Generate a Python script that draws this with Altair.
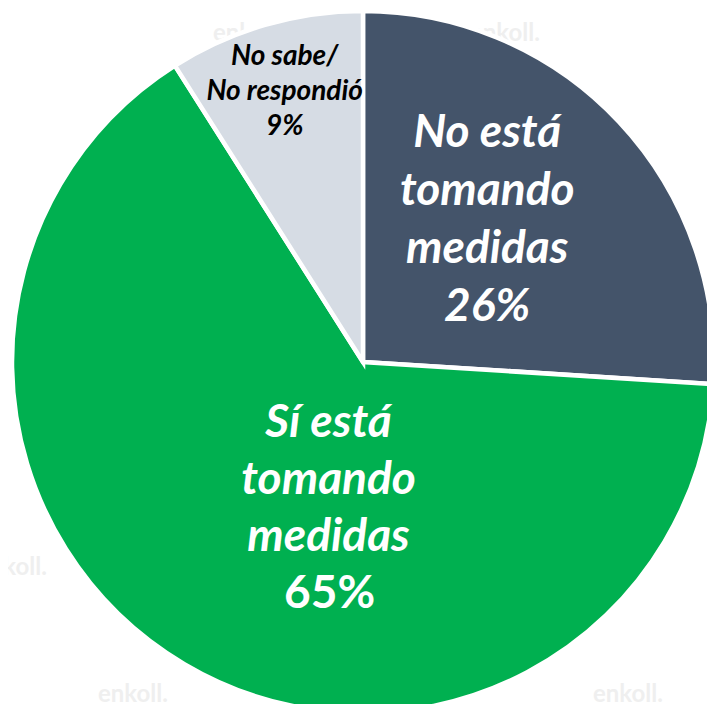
import altair as alt
import pandas as pd

# ---- data ----
categories = ["No está tomando medidas", "Sí está tomando medidas", "No sabe/No respondió"]
values = [26, 65, 9]
order = [1, 2, 3]
main_labels = ["No está\ntomando\nmedidas\n26%", "Sí está\ntomando\nmedidas", "No sabe/\nNo respondió\n9%"]
pct_labels = ["", "65%", ""]
colors = ["#44546A", "#00B050", "#D6DCE4"]

df = pd.DataFrame({
    "category": categories,
    "value": values,
    "order": order,
    "label": main_labels,
    "pct": pct_labels,
})

CX, CY, R = 355, 354, 351
FONT = "Lato"

base = (
    alt.Chart(df)
    .transform_stack(stack="value", groupby=[], as_=["v0", "v1"],
                     sort=[alt.SortField("order", order="ascending")])
    .transform_calculate(mid="(datum.v0 + datum.v1) / 2")
)
theta_scale = alt.Scale(domain=[0, 100])

arcs = base.mark_arc(radius=R, stroke="white", strokeWidth=4.5).encode(
    theta=alt.Theta("v0:Q", scale=theta_scale),
    theta2="v1:Q",
    color=alt.Color("category:N", scale=alt.Scale(domain=categories, range=colors), legend=None),
    x=alt.value(CX),
    y=alt.value(CY),
)

def label_layer(cat, field, radius, dx, dy, size, lh, color, style):
    return base.transform_filter(alt.datum.category == cat).mark_text(
        radius=radius, dx=dx, dy=dy, font=FONT, fontSize=size, fontWeight="bold",
        fontStyle=style, color=color, align="center", baseline="alphabetic",
        lineBreak="\n", lineHeight=lh,
    ).encode(
        theta=alt.Theta("mid:Q", scale=theta_scale),
        text=alt.Text(f"{field}:N"),
        x=alt.value(CX),
        y=alt.value(CY),
    )

lab_dark = label_layer(categories[0], "label", 180, -7, -92, 46, 58, "white", "italic")
lab_green = label_layer(categories[1], "label", 160, 47, -63, 46, 57, "white", "italic")
lab_green_pct = label_layer(categories[1], "pct", 160, 48, 108, 46, 57, "white", "normal")
lab_gray = label_layer(categories[2], "label", 270, -3, -38, 28, 35, "black", "italic")

# faint watermark decoration
wm_df = pd.DataFrame({"t": ["enkoll."]})
wm_pos = [(240, 26), (497, 26), (745, 26), (4, 560), (125, 687), (620, 687)]
wms = [
    alt.Chart(wm_df).mark_text(font=FONT, fontSize=24, fontWeight="bold",
                               color="#EFEFEF", align="center", baseline="middle").encode(
        text="t:N", x=alt.value(px), y=alt.value(py))
    for px, py in wm_pos
]

chart = alt.layer(*wms, arcs, lab_dark, lab_green, lab_green_pct, lab_gray).properties(
    width=699, height=696, padding=0, autosize=alt.AutoSizeParams(type="none"),
).configure_view(stroke=None)

chart.save("out.html", embed_options={"renderer": "svg", "actions": False})
